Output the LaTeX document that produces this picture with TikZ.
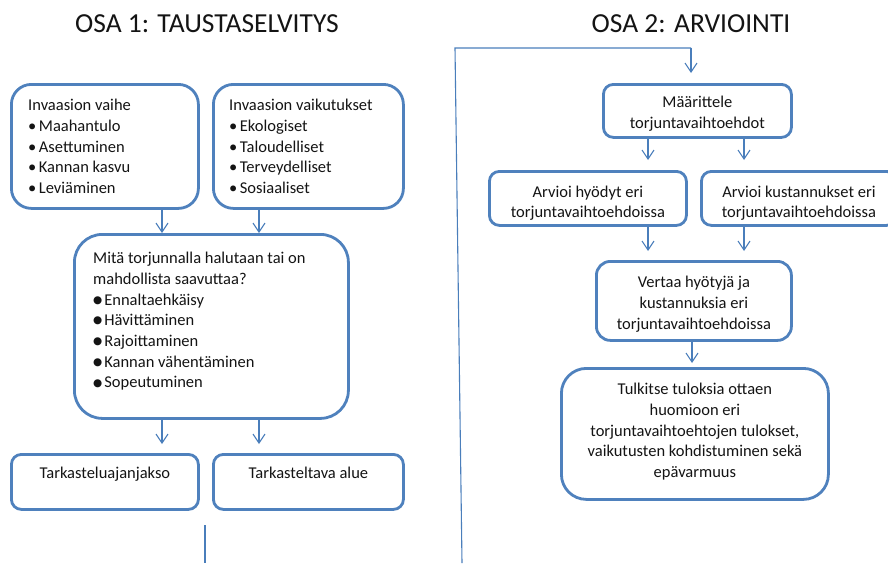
\documentclass[tikz,border=0pt]{standalone}
\usepackage{fontspec}
\setmainfont{Carlito}
\newfontfamily\symfont{DejaVu Sans}
\usetikzlibrary{arrows.meta,calc}
\definecolor{boxblue}{RGB}{79,129,189}
\definecolor{linkblue}{RGB}{74,126,187}
\definecolor{txt}{RGB}{20,20,20}
\newcommand\bigbul{\raisebox{1.8pt}{\symfont\fontsize{10.5}{0}\selectfont ●}\hspace{2pt}}
\newcommand\smbul{•\hspace{2.5pt}}
\begin{document}
\begin{tikzpicture}[x=1pt,y=-1pt,
  box/.style={draw=boxblue, line width=2.8pt, rounded corners=#1, fill=white, inner sep=0pt, anchor=north west},
  arr/.style={draw=linkblue, line width=1.1pt, -{Straight Barb[length=9pt,width=12pt,line width=1.1pt]}},
  plain/.style={draw=linkblue, line width=1.1pt},
  body/.style={font=\fontsize{16.5}{20.7}\selectfont, text=txt, inner sep=0pt},
  title/.style={font=\fontsize{27.5}{30}\selectfont, text=txt, inner sep=0pt}]
\useasboundingbox (0,0) rectangle (888,563);

% titles
\node[title] (t1) at (207,24) {OSA 1: TAUSTASELVITYS};
\node[title] (t2) at (691,24) {OSA 2: ARVIOINTI};

% boxes part 1
\node[box=20pt, minimum width=187pt, minimum height=124pt] (A) at (10,83) {};
\node[box=20pt, minimum width=190pt, minimum height=124pt] (B) at (212,83) {};
\node[box=28pt, minimum width=274pt, minimum height=184pt] (C) at (73,233) {};
\node[box=10pt, minimum width=187pt, minimum height=55pt] (D) at (10,453) {};
\node[box=10pt, minimum width=190pt, minimum height=55pt] (E) at (212,453) {};

% boxes part 2
\node[box=10pt, minimum width=188pt, minimum height=53pt] (F) at (602,83) {};
\node[box=10pt, minimum width=197pt, minimum height=54pt] (G) at (488,170) {};
\node[box=10pt, minimum width=195pt, minimum height=54pt] (H) at (700,170) {};
\node[box=14pt, minimum width=195pt, minimum height=79pt] (I) at (595,260) {};
\node[box=25pt, minimum width=267pt, minimum height=131pt] (J) at (560,367) {};

% texts
\node[body, anchor=north west, align=left] (tA) at ($(A.north west)+(18,16)$)
  {Invaasion vaihe\\ \smbul Maahantulo\\ \smbul Asettuminen\\ \smbul Kannan kasvu\\ \smbul Leviäminen};
\node[body, anchor=north west, align=left] (tB) at ($(B.north west)+(17,16)$)
  {Invaasion vaikutukset\\ \smbul Ekologiset\\ \smbul Taloudelliset\\ \smbul Terveydelliset\\ \smbul Sosiaaliset};
\node[body, anchor=north west, align=left] (tC) at ($(C.north west)+(20,19)$)
  {Mitä torjunnalla halutaan tai on\\ mahdollista saavuttaa?\\ \bigbul Ennaltaehkäisy\\ \bigbul Hävittäminen\\ \bigbul Rajoittaminen\\ \bigbul Kannan vähentäminen\\ \bigbul Sopeutuminen};
\node[body, anchor=north] (tD) at ($(D.north)+(0,14)$) {Tarkasteluajanjakso};
\node[body, anchor=north] (tE) at ($(E.north)+(0,14)$) {Tarkasteltava alue};

\node[body, anchor=north, align=center] (tF) at ($(F.north)+(0,13)$) {Määrittele\\ torjuntavaihtoehdot};
\node[body, anchor=north, align=center] (tG) at ($(G.north)+(0,15.5)$) {Arvioi hyödyt eri\\ torjuntavaihtoehdoissa};
\node[body, anchor=north, align=center] (tH) at ($(H.north)+(0,15.5)$) {Arvioi kustannukset eri\\ torjuntavaihtoehdoissa};
\node[body, anchor=north, align=center] (tI) at ($(I.north)+(0,16)$) {Vertaa hyötyjä ja\\ kustannuksia eri\\ torjuntavaihtoehdoissa};
\node[body, anchor=north, align=center] (tJ) at ($(J.north)+(0,16)$) {Tulkitse tuloksia ottaen\\ huomioon eri\\ torjuntavaihtoehtojen tulokset,\\ vaikutusten kohdistuminen sekä\\ epävarmuus};

% arrow columns
\coordinate (x1) at (162,0);
\coordinate (x2) at (259,0);
\coordinate (x3) at (648,0);
\coordinate (x4) at (744,0);
\coordinate (x5) at (692,0);

\draw[arr] (A.south -| x1) -- (C.north -| x1);
\draw[arr] (B.south -| x2) -- (C.north -| x2);
\draw[arr, shorten >=9pt] (C.south -| x1) -- (D.north -| x1);
\draw[arr, shorten >=9pt] (C.south -| x2) -- (E.north -| x2);

\draw[arr, shorten >=10pt] (F.south -| x3) -- (G.north -| x3);
\draw[arr, shorten >=10pt] (F.south -| x4) -- (H.north -| x4);
\draw[arr, shorten >=9pt] (G.south -| x3) -- (I.north -| x3);
\draw[arr, shorten >=9pt] (H.south -| x4) -- (I.north -| x4);
\draw[arr, shorten >=4pt] (I.south -| x5) -- (J.north -| x5);

% feedback line
\coordinate (fb0) at (462,563);
\coordinate (fb1) at (455,48);
\coordinate (fb2) at (691,48);
\draw[plain] (fb0) -- (fb1) -- (fb2);
\draw[arr, shorten >=10pt] (fb2) -- (F.north -| fb2);

% loose line at bottom left
\coordinate (ll0) at (205,525);
\coordinate (ll1) at (205,563);
\draw[plain] (ll0) -- (ll1);
\end{tikzpicture}
\end{document}
